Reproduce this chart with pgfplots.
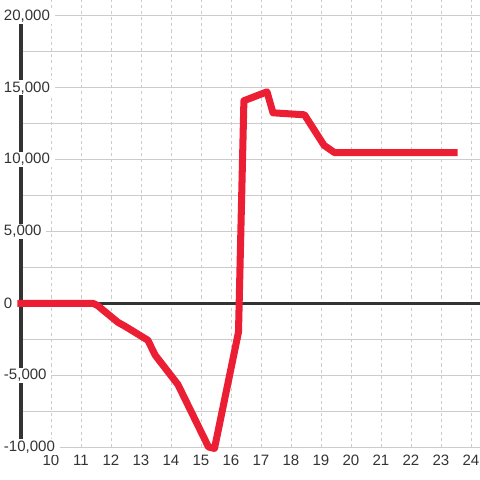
\documentclass[border=0pt]{standalone}
\usepackage{pgfplots}
\pgfplotsset{compat=1.18}
\usepackage{fontspec}
\setmainfont{Liberation Sans}

\definecolor{txt}{HTML}{333333}
\definecolor{gridc}{HTML}{CCCCCC}
\definecolor{linered}{HTML}{EC1E34}

\begin{document}
\begin{tikzpicture}
\begin{axis}[
    set layers,
    scale only axis,
    width=11.475cm,
    height=11.175cm,
    xmin=9, xmax=24.3,
    ymin=-10000, ymax=21111,
    clip=false,
    axis line style={draw=none},
    major tick length=0pt,
    minor tick length=0pt,
    xtick={10,11,...,24},
    ytick={-10000,-5000,0,5000,10000,15000,20000},
    yticklabels={{-10,000},{-5,000},{0},{5,000},{10,000},{15,000},{20,000}},
    minor ytick={-7500,-2500,2500,7500,12500,17500},
    xmajorgrids, ymajorgrids, yminorgrids,
    x grid style={gridc, line width=0.7pt, dash pattern=on 2.2pt off 2.2pt},
    y grid style={gridc, line width=0.7pt},
    /pgf/number format/assume math mode=true,
    tick label style={font=\fontsize{10.7}{12}\selectfont, text=txt},
    yticklabel style={anchor=west, xshift=-0.55cm, fill=white, inner ysep=1pt},
    xticklabel style={anchor=north, yshift=-0.075cm},
]
\coordinate (sw) at (rel axis cs:0,0);
\coordinate (ne) at (rel axis cs:1,1);

% axis line and zero line, under the tick labels
\begin{pgfonlayer}{axis ticks}
\draw[txt, line width=2.2pt] (axis cs:9,-10000) -- (axis cs:9,20000);
\draw[txt, line width=2.2pt] (axis cs:9,0) -- (axis cs:24.3,0);
\end{pgfonlayer}

\addplot[linered, line width=5pt, line join=round, no markers] coordinates {
(8.88,0)
(11.4,0)
(11.55,-150)
(12.23,-1320)
(12.47,-1600)
(13.23,-2570)
(13.47,-3600)
(14.23,-5650)
(15.25,-10000)
(15.45,-10100)
(16.25,-2000)
(16.43,14100)
(17.2,14720)
(17.4,13260)
(18.45,13120)
(19.1,11000)
(19.45,10490)
(23.55,10490)
};
\end{axis}
\pgfresetboundingbox
\path (sw) ++(-0.525cm,-0.825cm) rectangle (ne);
\end{tikzpicture}
\end{document}
